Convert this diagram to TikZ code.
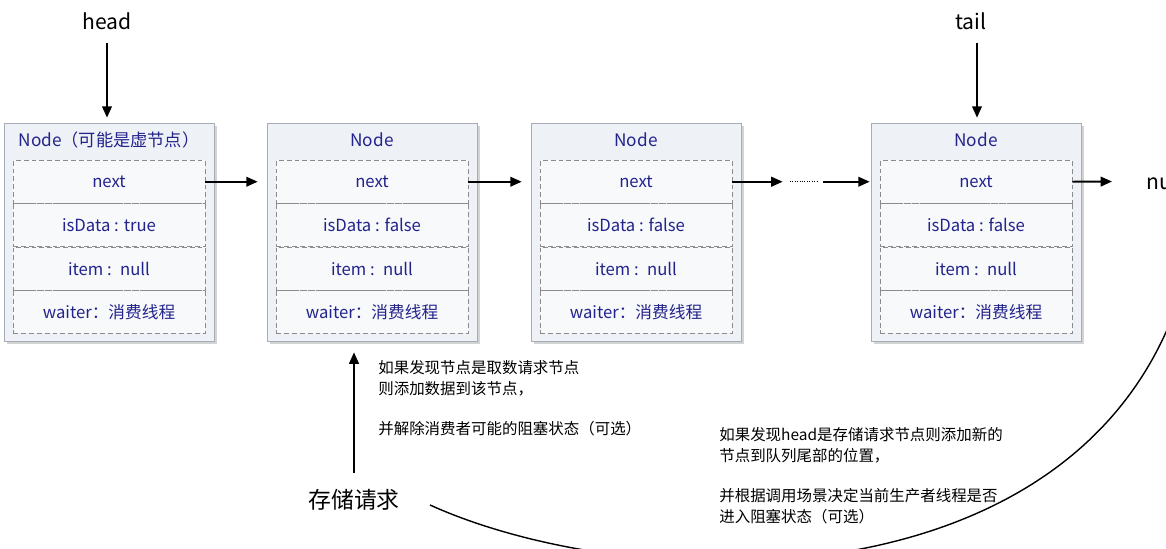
\documentclass[tikz,border=0pt]{standalone}
\usepackage{fontspec}
\setmainfont{Noto Sans CJK SC}
\usetikzlibrary{positioning,shadows,arrows.meta}
\definecolor{txtblue}{RGB}{35,35,140}
\definecolor{boxline}{RGB}{165,172,184}
\definecolor{boxfill}{RGB}{238,241,246}
\definecolor{rowline}{RGB}{140,140,140}
\tikzset{
  outerbox/.style={draw=boxline, fill=boxfill, minimum width=4.2cm, minimum height=4.36cm,
    inner sep=0pt, drop shadow={shadow xshift=1.5pt, shadow yshift=-1.5pt, opacity=0.35}},
  field/.style={draw=rowline, dash pattern=on 2.8pt off 1.7pt, fill=white!55!boxfill,
    minimum width=3.84cm, minimum height=0.855cm, inner sep=0pt, text=txtblue,
    font=\fontsize{9.5pt}{11pt}\selectfont},
  title/.style={text=txtblue, font=\fontsize{9.8pt}{11pt}\selectfont},
  label/.style={font=\fontsize{12pt}{14pt}\selectfont},
  note/.style={align=left, anchor=north west, inner sep=0pt,
    font=\fontsize{8.8pt}{11.9pt}\selectfont},
  arr/.style={-{Triangle[length=6.5pt,width=5.5pt]}, line width=1.1pt}
}
% one queue node: name, x of centre, title, isData
\newcommand{\qnode}[4]{%
  \node[outerbox] (#1) at (#2,232) {};
  \node[title] (#1-title) at (#2,140) {#3};
  \node[field, anchor=north] (#1-next) at (#2,160) {next};
  \node[field, below=0pt of #1-next] (#1-data) {isData : #4};
  \node[field, below=0pt of #1-data] (#1-item) {item :\enspace null};
  \node[field, below=0pt of #1-item] (#1-waiter) {waiter：消费线程};
}

\begin{document}
\begin{tikzpicture}[x=0.02cm,y=-0.02cm]
  \useasboundingbox (0,0) rectangle (1166,548);
  \clip (0,0) rectangle (1166,548);
  % the four queue nodes
  \qnode{n1}{109}{Node（可能是虚节点）}{true}
  \qnode{n2}{372}{Node}{false}
  \qnode{n3}{636}{Node}{false}
  \qnode{n4}{976}{Node}{false}
  % head and tail pointers
  \node[label] (head) at (107,21) {head};
  \node[label] (tail) at (971,21) {tail};
  \draw[arr, shorten <=4pt, shorten >=0.1cm] (head.south) -- (head.south |- n1.north);
  \draw[arr, shorten <=4pt, shorten >=0.1cm] ([xshift=0.12cm]tail.south) -- ([xshift=0.12cm]tail.south |- n4.north);
  % next links
  \node[label, anchor=west] (null) at (1140,181.4) {null};
  \node[minimum width=0.8cm, inner sep=0pt] (gap) at (803,181.4) {};
  \draw[arr, shorten >=0.36cm] (n1-next.east) -- (n2-next.west);
  \draw[arr, shorten >=0.36cm] (n2-next.east) -- (n3-next.west);
  \draw[arr] (n3-next.east) -- (n3-next.east -| gap.west);
  \draw[densely dotted, shorten <=0.14cm, shorten >=0.12cm] (n3-next.east -| gap.west) -- (n3-next.east -| gap.east);
  \draw[arr, shorten >=0.2cm] (n4-next.west -| gap.east) -- (n4-next.west);
  \draw[arr, shorten >=0.56cm] (n4-next.east) -- (null.west);
  % the put request
  \node[font=\fontsize{13pt}{15pt}\selectfont] (req) at (354,500) {存储请求};
  \draw[arr, shorten <=0.2cm, shorten >=0.22cm] (req.north) -- (req.north |- n2.south);
  \node[note] (note1) at (378,360) {如果发现节点是取数请求节点\\则添加数据到该节点，\\[0.38cm]并解除消费者可能的阻塞状态（可选）};
  \node[note] (note2) at (719,427) {如果发现head是存储请求节点则添加新的\\节点到队列尾部的位置，\\[0.38cm]并根据调用场景决定当前生产者线程是否\\进入阻塞状态（可选）};
  \coordinate (curveS) at (430,505);
  \coordinate (curveE) at (1190,260);
  \draw[thick] (curveS) .. controls (640,600) and (1110,610) .. (curveE);
\end{tikzpicture}
\end{document}
